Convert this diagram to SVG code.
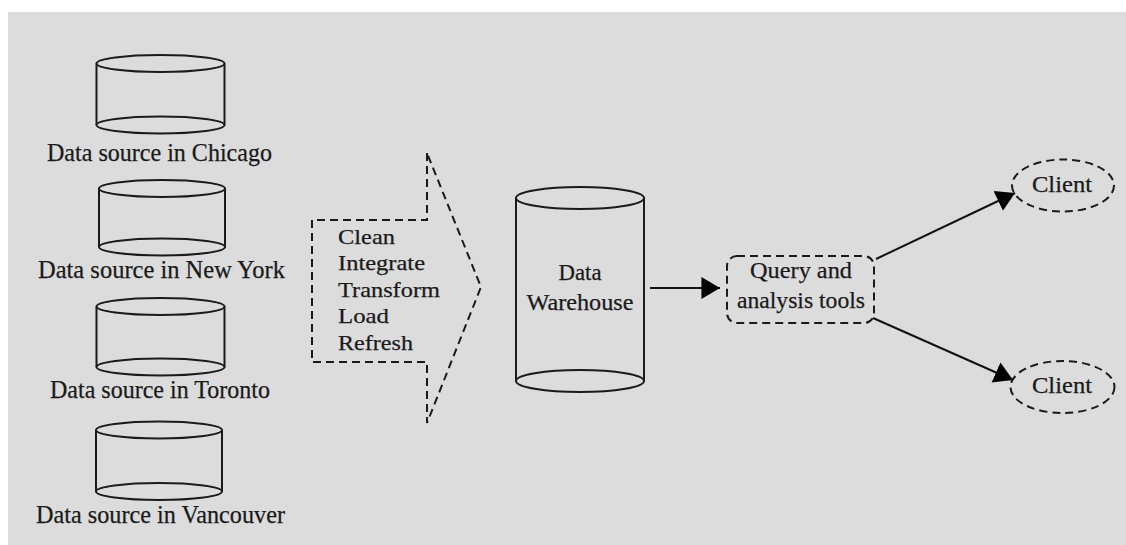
<svg xmlns="http://www.w3.org/2000/svg" width="1126" height="545" viewBox="0 0 1126 545">
<style>
.bg{fill:#dcdcdc}
.cyl{fill:none;stroke:#1a1a1a;stroke-width:2}
.dash{fill:none;stroke:#1a1a1a;stroke-width:2;stroke-dasharray:8 5}
.con{fill:none;stroke:#111;stroke-width:2}
text{font-family:"Liberation Serif","Times New Roman",serif;fill:#1a1a1a;stroke:#1a1a1a;stroke-width:0.25}
.lbl{font-size:26px;text-anchor:middle}
.mid{font-size:23px;text-anchor:middle}
.step{font-size:22px}
</style>
<defs>
<marker id="arr" markerUnits="userSpaceOnUse" markerWidth="20" markerHeight="24" viewBox="0 -11 18 22" refX="17" refY="0" orient="auto">
<path d="M0,-10 L17,0 L0,10 Z" fill="#000"/>
</marker>
</defs>
<rect class="bg" x="8" y="12" width="1118" height="533"/>

<g id="src-chicago">
<ellipse class="cyl" cx="160.5" cy="63.5" rx="64" ry="8.5"/>
<ellipse class="cyl" cx="160.5" cy="125" rx="64" ry="8.5"/>
<line class="cyl" x1="96.5" y1="63.5" x2="96.5" y2="125"/>
<line class="cyl" x1="224.5" y1="63.5" x2="224.5" y2="125"/>
<text class="lbl" x="159.5" y="161" textLength="225" lengthAdjust="spacingAndGlyphs">Data source in Chicago</text>
</g>

<g id="src-newyork">
<ellipse class="cyl" cx="162" cy="188.5" rx="63" ry="8.5"/>
<ellipse class="cyl" cx="162" cy="247" rx="63" ry="8.5"/>
<line class="cyl" x1="99" y1="188.5" x2="99" y2="247"/>
<line class="cyl" x1="225" y1="188.5" x2="225" y2="247"/>
<text class="lbl" x="161.5" y="278" textLength="247" lengthAdjust="spacingAndGlyphs">Data source in New York</text>
</g>

<g id="src-toronto">
<ellipse class="cyl" cx="160.5" cy="306.5" rx="64" ry="8.5"/>
<ellipse class="cyl" cx="160.5" cy="367" rx="64" ry="8.5"/>
<line class="cyl" x1="96.5" y1="306.5" x2="96.5" y2="367"/>
<line class="cyl" x1="224.5" y1="306.5" x2="224.5" y2="367"/>
<text class="lbl" x="160" y="398" textLength="220" lengthAdjust="spacingAndGlyphs">Data source in Toronto</text>
</g>

<g id="src-vancouver">
<ellipse class="cyl" cx="159" cy="430" rx="63" ry="8.5"/>
<ellipse class="cyl" cx="159" cy="491.5" rx="63" ry="8.5"/>
<line class="cyl" x1="96" y1="430" x2="96" y2="491.5"/>
<line class="cyl" x1="222" y1="430" x2="222" y2="491.5"/>
<text class="lbl" x="160.5" y="523" textLength="249" lengthAdjust="spacingAndGlyphs">Data source in Vancouver</text>
</g>

<g id="etl">
<path class="dash" d="M427,153 L427,220 L312,220 L312,362 L427,362 L427,423 L481,287 Z"/>
<text class="step" x="338" y="244" textLength="57" lengthAdjust="spacingAndGlyphs">Clean</text>
<text class="step" x="338" y="270" textLength="87" lengthAdjust="spacingAndGlyphs">Integrate</text>
<text class="step" x="338" y="297" textLength="102" lengthAdjust="spacingAndGlyphs">Transform</text>
<text class="step" x="338" y="323" textLength="51" lengthAdjust="spacingAndGlyphs">Load</text>
<text class="step" x="338" y="350" textLength="75" lengthAdjust="spacingAndGlyphs">Refresh</text>
</g>

<g id="warehouse">
<ellipse class="cyl" cx="580" cy="198" rx="64" ry="11"/>
<ellipse class="cyl" cx="580" cy="381" rx="64" ry="11"/>
<line class="cyl" x1="516" y1="198" x2="516" y2="381"/>
<line class="cyl" x1="644" y1="198" x2="644" y2="381"/>
<text class="mid" x="580" y="280" textLength="43" lengthAdjust="spacingAndGlyphs">Data</text>
<text class="mid" x="580" y="310" textLength="107" lengthAdjust="spacingAndGlyphs">Warehouse</text>
</g>

<g id="query">
<rect class="dash" x="727" y="256" width="147" height="67" rx="10"/>
<text class="mid" x="801" y="278" textLength="102" lengthAdjust="spacingAndGlyphs">Query and</text>
<text class="mid" x="801" y="308" textLength="128" lengthAdjust="spacingAndGlyphs">analysis tools</text>
</g>

<g id="client1">
<ellipse class="dash" cx="1063" cy="185.5" rx="51" ry="26"/>
<text class="mid" x="1062" y="192" textLength="60" lengthAdjust="spacingAndGlyphs">Client</text>
</g>

<g id="client2">
<ellipse class="dash" cx="1062.5" cy="387" rx="52" ry="26"/>
<text class="mid" x="1062" y="393" textLength="60" lengthAdjust="spacingAndGlyphs">Client</text>
</g>

<g id="connectors">
<line class="con" x1="650" y1="288" x2="720" y2="288" marker-end="url(#arr)"/>
<line class="con" x1="876" y1="259" x2="1015" y2="193" marker-end="url(#arr)"/>
<line class="con" x1="873" y1="318" x2="1013" y2="380" marker-end="url(#arr)"/>
</g>
</svg>
